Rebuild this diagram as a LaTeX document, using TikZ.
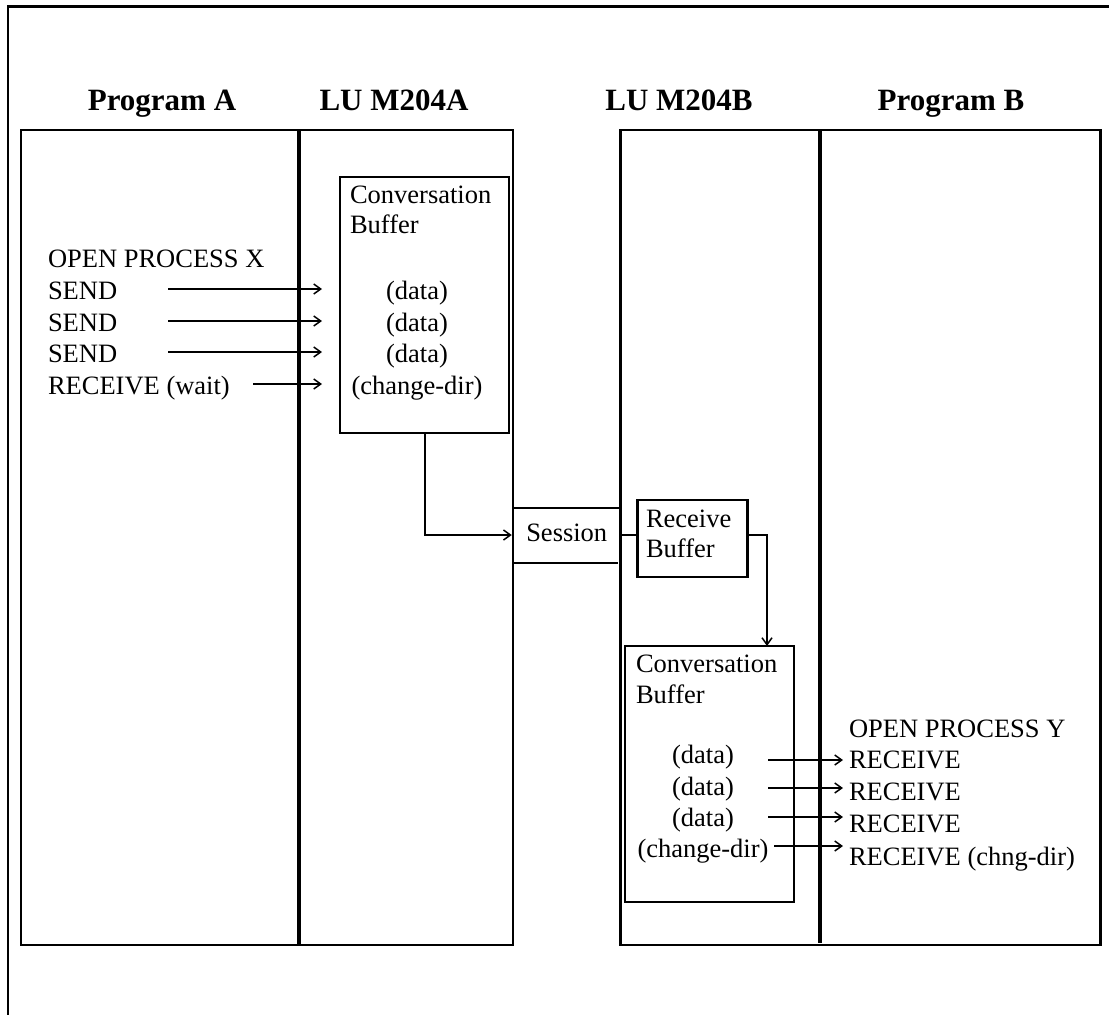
\documentclass[tikz,border=0pt]{standalone}
\usepackage{fontspec}
\setmainfont{Liberation Serif}
\usetikzlibrary{arrows.meta}
\begin{document}
\begin{tikzpicture}[x=1pt,y=-1pt,
  box/.style={draw, line width=2.2pt, inner sep=0pt, outer sep=0pt, anchor=north west},
  divider/.style={line width=3.2pt},
  edge/.style={line width=2.2pt},
  conn/.style={line width=2pt},
  arr/.style={conn, -{Straight Barb[length=7pt,width=10pt,line width=1.5pt]}},
  txt/.style={inner sep=0pt, outer sep=0pt, anchor=base west, font=\fontsize{26.5}{31}\selectfont},
  ctxt/.style={txt, anchor=base},
  title/.style={inner sep=0pt, anchor=base, font=\fontsize{31}{36}\selectfont\bfseries}]
\useasboundingbox (0,0) rectangle (1109,1015);

% outer frame
\draw[line width=2.7pt] (8,1015) -- (8,6.5) -- (1109,6.5);

% column titles
\node[title] (tA)  at (162,110) {Program A};
\node[title] (tLA) at (394,110) {LU M204A};
\node[title] (tLB) at (679,110) {LU M204B};
\node[title] (tB)  at (951,110) {Program B};

% the two systems
\node[box, minimum width=492, minimum height=815] (leftbox)  at (21,130) {};
\node[box, minimum width=480, minimum height=815] (rightbox) at (620.5,130) {};
\draw[divider] (299,130) -- (299,945);
\draw[divider] (820,130) -- (820,943);

% session link
\draw[edge] (513,508) -- (620.5,508);
\draw[edge] (513,563) -- (618,563);
\node[txt, anchor=center, minimum width=107, minimum height=55,
      text height=12pt, text depth=0pt] (session) at (566.75,535) {Session};

% buffers
\node[box, minimum width=169, minimum height=256] (convA)   at (340,177) {};
\node[box, minimum width=110, minimum height=77]  (recvbuf) at (637.5,500) {};
\node[box, minimum width=169, minimum height=256] (convB)   at (625,646) {};

\node[txt] (convAt1) at (350,203) {Conversation};
\node[txt] (convAt2) at (350,233) {Buffer};
\node[txt] (recvt1) at (646,527) {Receive};
\node[txt] (recvt2) at (646,557) {Buffer};
\node[txt] (convBt1) at (636,672) {Conversation};
\node[txt] (convBt2) at (636,703) {Buffer};

% program A calls
\node[txt] (openX) at (48,267.5) {OPEN PROCESS X};
\node[txt] (sA1) at (48,299) {SEND};
\node[txt] (sA2) at (48,331) {SEND};
\node[txt] (sA3) at (48,362.5) {SEND};
\node[txt] (sA4) at (48,394) {RECEIVE (wait)};

% contents of the sending buffer
\node[ctxt] (qA1) at (417,299) {(data)};
\node[ctxt] (qA2) at (417,331) {(data)};
\node[ctxt] (qA3) at (417,362.5) {(data)};
\node[ctxt] (qA4) at (417,394) {(change-dir)};

\coordinate (a1) at (168,289);
\coordinate (a2) at (168,321);
\coordinate (a3) at (168,352);
\coordinate (a4) at (253,384);
\foreach \c in {a1,a2,a3,a4}
  \draw[arr, shorten >=18pt] (\c) -- (\c -| convA.west);

% buffer A to session, session to receive buffer, on to buffer B
\coordinate (convAout) at (425,433);
\draw[arr, shorten >=1.5pt] (convAout) |- (session.west);
\draw[conn] (session.east) -- (session.east -| recvbuf.west);
\coordinate (drop) at (767,646);
\draw[arr] (session.east -| recvbuf.east) -| (drop);

% contents of the receiving buffer
\node[ctxt] (qB1) at (703,763) {(data)};
\node[ctxt] (qB2) at (703,795) {(data)};
\node[ctxt] (qB3) at (703,826) {(data)};
\node[ctxt] (qB4) at (703,857) {(change-dir)};

% program B calls
\node[txt] (openY) at (849,737) {OPEN PROCESS Y};
\node[txt] (rB1) at (849,768) {RECEIVE};
\node[txt] (rB2) at (849,800) {RECEIVE};
\node[txt] (rB3) at (849,832.5) {RECEIVE};
\node[txt] (rB4) at (849,865) {RECEIVE (chng-dir)};

\coordinate (b1) at (768,760);
\coordinate (b2) at (768,788);
\coordinate (b3) at (768,817);
\coordinate (b4) at (774,846);
\foreach \c in {b1,b2,b3,b4}
  \draw[arr, shorten >=6pt] (\c) -- (\c -| rB1.west);
\end{tikzpicture}
\end{document}
